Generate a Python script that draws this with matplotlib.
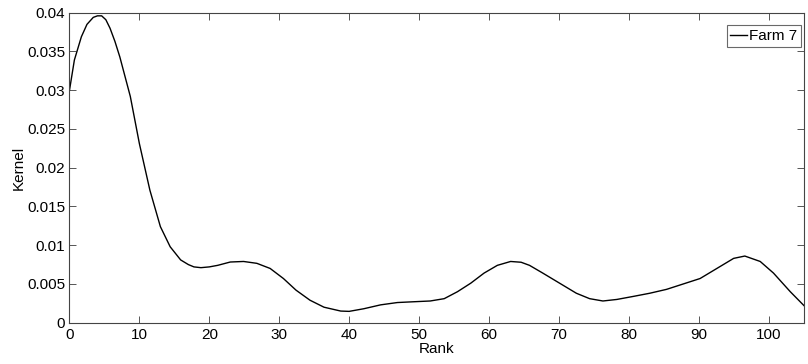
import matplotlib
matplotlib.use('Agg')
from matplotlib import pyplot as plt
from matplotlib.ticker import FuncFormatter

plt.rcParams['font.family'] = ['Liberation Sans', 'DejaVu Sans']

# values
rank = [0, 0.7, 1.7, 2.5, 3.4, 4.0, 4.6, 5.2, 5.8, 6.5, 7.2, 8.7, 10, 11.5, 13, 14.4,
        15.9, 17, 17.8, 18.8, 20, 21.2, 23, 24.9, 26.8, 28.7, 30.6, 32.4, 34.4, 36.4,
        38.8, 40, 42.1, 44.5, 46.9, 49.2, 51.6, 53.6, 55.5, 57.4, 59.3, 61.2, 63.1,
        64.6, 65.8, 67.7, 70.1, 72.5, 74.4, 76.3, 78.3, 80.7, 83, 85.4, 87.8, 90.2,
        92.6, 95, 96.6, 98.8, 100.7, 103.1, 105.5]
kernel = [0.0300, 0.0339, 0.0369, 0.0385, 0.0394, 0.0396, 0.0396, 0.0391, 0.0380,
          0.0363, 0.0343, 0.0292, 0.0231, 0.0171, 0.0124, 0.0098, 0.0081, 0.0075,
          0.0072, 0.0071, 0.0072, 0.0074, 0.00783, 0.0079, 0.00766, 0.0070, 0.0057,
          0.0042, 0.0029, 0.0020, 0.0015, 0.00146, 0.0018, 0.0023, 0.0026, 0.0027,
          0.0028, 0.0031, 0.0040, 0.0051, 0.0064, 0.0074, 0.0079, 0.0078, 0.0074,
          0.0064, 0.0051, 0.0038, 0.0031, 0.0028, 0.0030, 0.0034, 0.0038, 0.0043,
          0.0050, 0.0057, 0.0070, 0.0083, 0.0086, 0.0079, 0.0064, 0.0040, 0.0018]
series_name = 'Farm 7'

fig = plt.figure(figsize=(8.08, 3.64), dpi=100)
ax = fig.add_axes([0.086, 0.1135, 0.9085, 0.8515])
ax.plot(rank, kernel, '-', color='black', linewidth=1.0, label=series_name)

ax.set_xlim(0, 105)
ax.set_ylim(0, 0.04)
ax.set_xticks(range(0, 101, 10))
ax.set_yticks([i * 0.005 for i in range(9)])
ax.yaxis.set_major_formatter(FuncFormatter(lambda v, p: '%g' % round(v, 4)))
ax.tick_params(direction='in', top=True, right=True, length=5, width=0.7,
               color='#555555', labelsize=11)
ax.tick_params(axis='x', pad=4)
ax.tick_params(axis='y', pad=3)
for s in ax.spines.values():
    s.set_color('#444444')
    s.set_linewidth(0.8)

ax.set_xlabel('Rank', fontsize=11, labelpad=-0.5)
ax.set_ylabel('Kernel', fontsize=11, labelpad=1)

leg = ax.legend(loc='upper right', bbox_to_anchor=(0.9962, 0.960), fontsize=11,
                handlelength=1.1, handletextpad=0.1, borderpad=0.25,
                fancybox=False, borderaxespad=0)
leg.get_frame().set_edgecolor('#444444')
leg.get_frame().set_linewidth(0.8)

plt.savefig('out.png', dpi=100)
